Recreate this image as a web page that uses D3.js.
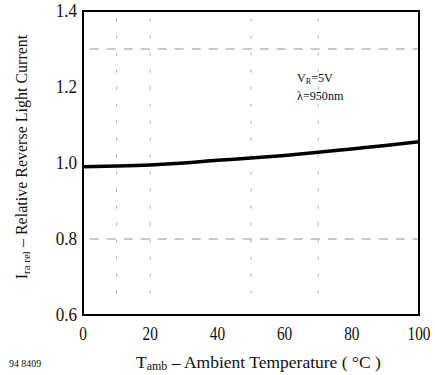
<!DOCTYPE html>
<html>
<head>
    <script type="text/javascript" src="https://d3js.org/d3.v7.min.js"></script>
    <style>
        body { margin: 0; background: #fff; }
        svg { display: block; }
        text { font-family: "Liberation Serif", "DejaVu Serif", serif; fill: #111; }
    </style>
</head>
<body>
    <svg></svg>
    <script>
        // curve
        const temps = [0, 10, 20, 30, 40, 50, 60, 70, 80, 90, 100];
        const relCurrent = [0.990, 0.992, 0.995, 1.000, 1.007, 1.013, 1.020, 1.028, 1.037, 1.046, 1.056];

        const xTicks = [0, 20, 40, 60, 80, 100];
        const yTicks = [0.6, 0.8, 1.0, 1.2, 1.4];
        const yTickLabels = ["0.6", "0.8", "1.0", "1.2", "1.4"];

        // faint dashed grid left over in the scan
        const gridX = [10, 20, 50, 70];
        const gridY = [1.3, 0.8];

        const svg = d3.select("svg").attr("width", 435).attr("height", 375);

        const x = d3.scaleLinear().domain([0, 100]).range([83, 419]);
        const y = d3.scaleLinear().domain([0.6, 1.4]).range([315, 11]);

        // grid
        svg.selectAll(".gx").data(gridX).enter().append("line")
            .attr("x1", d => x(d)).attr("x2", d => x(d))
            .attr("y1", y(1.38)).attr("y2", y(0.62))
            .attr("stroke", "#999").attr("stroke-width", 0.8)
            .attr("stroke-dasharray", "3,14");
        svg.selectAll(".gy").data(gridY).enter().append("line")
            .attr("x1", x(2)).attr("x2", x(100))
            .attr("y1", d => y(d)).attr("y2", d => y(d))
            .attr("stroke", "#777").attr("stroke-width", 0.8)
            .attr("stroke-dasharray", "9,8");

        // frame
        svg.append("rect")
            .attr("x", x(0)).attr("y", y(1.4))
            .attr("width", x(100) - x(0)).attr("height", y(0.6) - y(1.4))
            .attr("fill", "none").attr("stroke", "#000").attr("stroke-width", 2);

        // curve
        const line = d3.line()
            .x((d, i) => x(temps[i]))
            .y(d => y(d))
            .curve(d3.curveMonotoneX);
        svg.append("path")
            .datum(relCurrent)
            .attr("d", line)
            .attr("fill", "none").attr("stroke", "#000").attr("stroke-width", 3.5);

        // tick labels (scanned type is tall and narrow)
        svg.selectAll(".xt").data(xTicks).enter().append("text")
            .attr("transform", d => `translate(${x(d)},340) scale(0.85,1)`)
            .attr("text-anchor", "middle").attr("font-size", 18)
            .text(d => d);
        svg.selectAll(".yt").data(yTicks).enter().append("text")
            .attr("transform", d => `translate(77,${y(d) + 6}) scale(0.95,1)`)
            .attr("text-anchor", "end").attr("font-size", 18)
            .text((d, i) => yTickLabels[i]);

        // x title
        const xt = svg.append("text").attr("x", 136).attr("y", 368).attr("font-size", 17.5);
        xt.append("tspan").text("T");
        xt.append("tspan").attr("font-size", 12).attr("dy", 2).text("amb");
        xt.append("tspan").attr("dy", -2).text(" – Ambient Temperature ( °C )");

        // y title
        const yt = svg.append("text")
            .attr("transform", "translate(27,157) rotate(-90)")
            .attr("text-anchor", "middle").attr("font-size", 16);
        yt.append("tspan").text("I");
        yt.append("tspan").attr("font-size", 11).attr("dy", 3).text("ra rel");
        yt.append("tspan").attr("dy", -3).text(" – Relative Reverse Light Current");

        // figure number
        svg.append("text").attr("transform", "translate(9,367) scale(0.9,1)")
            .attr("font-size", 11).text("94 8409");

        // annotation
        const a = svg.append("text").attr("transform", "translate(297,82) scale(0.9,1)").attr("font-size", 13.5);
        a.append("tspan").text("V");
        a.append("tspan").attr("font-size", 9).attr("dy", 2).text("R");
        a.append("tspan").attr("dy", -2).text("=5V");
        svg.append("text").attr("transform", "translate(297,100) scale(0.9,1)")
            .attr("font-size", 13.5).text("λ=950nm");
    </script>
</body>
</html>
